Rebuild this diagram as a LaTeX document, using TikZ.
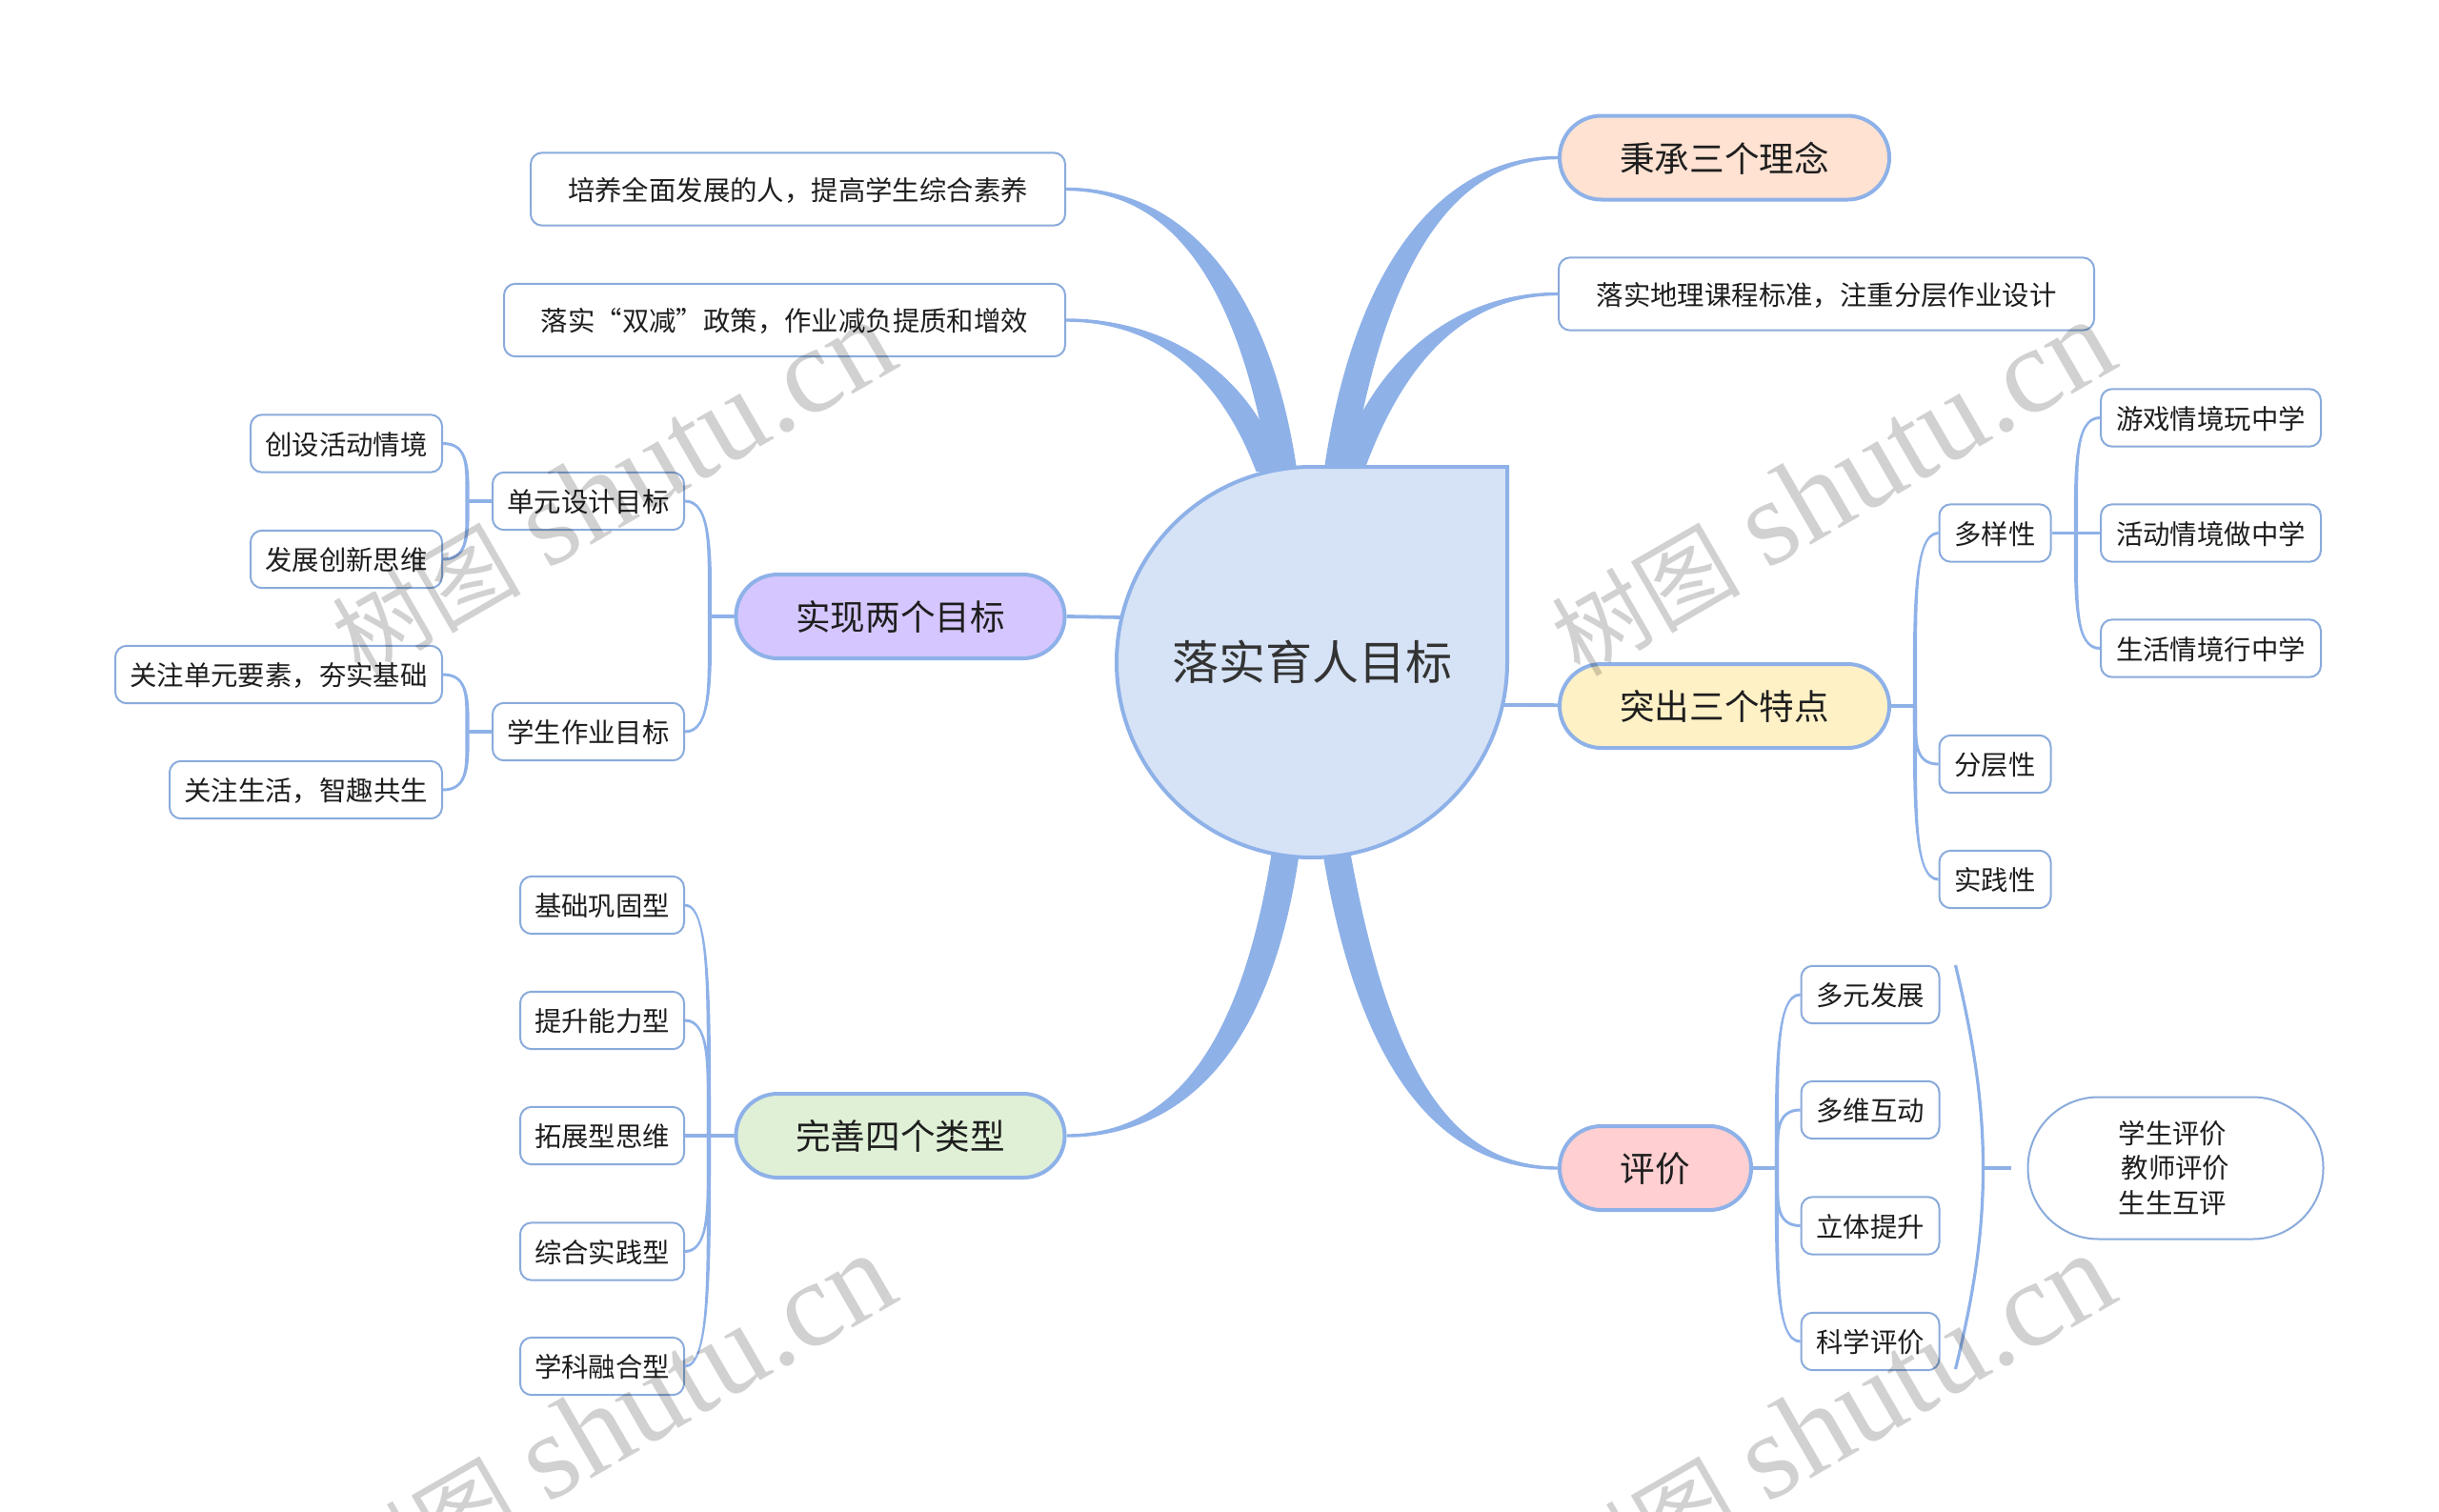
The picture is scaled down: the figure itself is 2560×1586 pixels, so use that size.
\documentclass[tikz,border=0pt]{standalone}
\usepackage{fontspec}
\setmainfont{Noto Sans CJK SC}
\newfontfamily\wmlatin{Liberation Serif}
\usetikzlibrary{calc,backgrounds}
\definecolor{linkc}{HTML}{8EB1E8}
\definecolor{edgec}{HTML}{8AABDB}
\definecolor{corefill}{HTML}{D6E3F6}
\definecolor{fillpeach}{HTML}{FFE2D2}
\definecolor{fillviolet}{HTML}{D5C6FF}
\definecolor{fillgreen}{HTML}{DFF0D6}
\definecolor{fillyellow}{HTML}{FFF1C6}
\definecolor{fillpink}{HTML}{FFCFD1}
\definecolor{inkc}{HTML}{1E1E1E}
\tikzset{
  leafbox/.style={draw=edgec,fill=white,line width=1pt,rounded corners=6pt,inner sep=0pt,minimum height=30.2pt,text=inkc,text height=13.4pt,text depth=1.9pt,font={\fontsize{14.2}{18.3}\selectfont}},
  tallbox/.style={leafbox,minimum height=38.2pt},
  pillbox/.style={draw=linkc,line width=2pt,rounded corners=21.9pt,inner sep=0pt,minimum height=44pt,text=inkc,text height=16.6pt,text depth=2pt,font={\fontsize{18.3}{22}\selectfont}},
  cloudbox/.style={draw=edgec,fill=white,line width=1pt,inner sep=0pt,text=inkc,font={\fontsize{14.2}{18.3}\selectfont},rounded corners=37pt,minimum height=74.5pt,minimum width=155pt,align=center},
  corebox/.style={inner sep=0pt,minimum size=205pt,text=black!80,text height=21pt,text depth=2.4pt,font={\fontsize{24.5}{29}\selectfont}},
  coreshape/.style={draw=linkc,fill=corefill,line width=2pt,miter limit=10},
  bandfill/.style={fill=linkc,draw=none},
  stubline/.style={draw=linkc,line width=1.9pt},
  bracketline/.style={draw=linkc,line width=1.6pt},
  wmark/.style={anchor=base west,rotate=30,inner sep=0pt,text=black,text opacity=0.18}
}
% tapered band: thin end, control 1, control 2, thick end, half width there, half width here
\newcommand{\taper}[6]{\path[bandfill] ($(#1)+(#5)$) .. controls ($(#2)+(#5)+0.35*(#6)$) and ($(#3)+1.15*(#6)$) .. ($(#4)+(#6)$) -- ($(#4)-(#6)$) .. controls ($(#3)-1.15*(#6)$) and ($(#2)-(#5)-0.35*(#6)$) .. ($(#1)-(#5)$) -- cycle;}
% main band from a node to the core
\newcommand{\mainband}[6]{%
  \coordinate (m1) at ($(#1)+(#2)$);
  \coordinate (m2) at ($(core)+(#3)$);
  \coordinate (m3) at ($(core)+(#4)$);
  \taper{#1}{m1}{m2}{m3}{#5}{#6}}
% child curve from a node to a junction on a spine
\newcommand{\kid}[4]{%
  \coordinate (k1) at ($(#2|-#1)+({#3*2},0)$);
  \coordinate (k2) at ($(#2)!0.55!(#2|-#1)$);
  \taper{#1}{k1}{k2}{#2}{0,{-1.5*#4}}{{#3*2.1},0}}
\begin{document}
\begin{tikzpicture}[x=0.5pt,y=-0.5pt]
\useasboundingbox (0,0) rectangle (2560,1586);
% core
\node[corebox] (core) at (1377,695) {落实育人目标};
% first level
\node[pillbox,fill=fillpeach,minimum width=173pt] (bingcheng) at (1810,165.5) {秉承三个理念};
\node[pillbox,fill=fillyellow,minimum width=173pt] (tuchu) at (1810,741) {突出三个特点};
\node[pillbox,fill=fillpink,minimum width=100.5pt] (pingjia) at (1737.5,1226) {评价};
\node[pillbox,fill=fillviolet,minimum width=172.5pt] (shixian) at (945,647) {实现两个目标};
\node[pillbox,fill=fillgreen,minimum width=172.5pt] (wanshan) at (945,1192) {完善四个类型};
\node[tallbox,minimum width=280.5pt] (peiyang) at (837.5,198.5) {培养全面发展的人，提高学生综合素养};
\node[tallbox,minimum width=294.5pt] (shuangjian) at (823.5,336) {落实“双减”政策，作业减负提质和增效};
\node[tallbox,minimum width=281pt] (dili) at (1917,308.5) {落实地理课程标准，注重分层作业设计};
% left upper tree
\node[leafbox,minimum width=100.5pt] (danyuan) at (617.5,526) {单元设计目标};
\node[leafbox,minimum width=100.5pt] (zuoye) at (617.5,768) {学生作业目标};
\node[leafbox,minimum width=100.5pt] (chuangshe) at (363.5,465.5) {创设活动情境};
\node[leafbox,minimum width=100.5pt] (chuangxin) at (363.5,587) {发展创新思维};
\node[leafbox,minimum width=171.5pt] (yaosu) at (292.5,708) {关注单元要素，夯实基础};
\node[leafbox,minimum width=143pt] (shenghuo) at (321,829) {关注生活，智趣共生};
% left lower tree
\node[leafbox,minimum width=86pt] (jichu) at (632,950) {基础巩固型};
\node[leafbox,minimum width=86pt] (tisheng) at (632,1071) {提升能力型};
\node[leafbox,minimum width=86pt] (tuozhan) at (632,1192) {拓展型思维};
\node[leafbox,minimum width=86pt] (zonghe) at (632,1313.5) {综合实践型};
\node[leafbox,minimum width=86pt] (xueke) at (632,1434) {学科融合型};
% right tree
\node[leafbox,minimum width=58.5pt] (duoyang) at (2094,559.5) {多样性};
\node[leafbox,minimum width=58.5pt] (fenceng) at (2094,802) {分层性};
\node[leafbox,minimum width=58.5pt] (shijian) at (2094,923) {实践性};
\node[leafbox,minimum width=115.5pt] (youxi) at (2320.5,438.5) {游戏情境玩中学};
\node[leafbox,minimum width=115.5pt] (huodong) at (2320.5,559.5) {活动情境做中学};
\node[leafbox,minimum width=115.5pt] (qingjing) at (2320.5,680.5) {生活情境行中学};
% evaluation tree
\node[leafbox,minimum width=72.5pt] (duoyuan) at (1963,1044) {多元发展};
\node[leafbox,minimum width=72.5pt] (duowei) at (1963,1165) {多维互动};
\node[leafbox,minimum width=72.5pt] (liti) at (1963,1286.5) {立体提升};
\node[leafbox,minimum width=72.5pt] (kexue) at (1963,1408) {科学评价};
\node[cloudbox] (pinglist) at (2283.5,1226) {学生评价\hspace*{3pt}\\教师评价\hspace*{3pt}\\生生互评\hspace*{3pt}};
% junctions on the spines
\coordinate (jshixian) at (shixian.west -| 745,0);
\coordinate (jdanyuan) at (danyuan.west -| 490.5,0);
\coordinate (jzuoye) at (zuoye.west -| 490.5,0);
\coordinate (jwanshan) at (wanshan.west -| 744,0);
\coordinate (jtuchu) at (tuchu.east -| 2010,0);
\coordinate (jduoyang) at (duoyang.east -| 2179,0);
\coordinate (jpingjia) at (pingjia.east -| 1865,0);
\coordinate (brkA) at ($(duoyuan.east)+(16,-31)$);
\coordinate (brkB) at ($(pinglist.west)+(-46,0)$);
\coordinate (brkC) at ($(kexue.east)+(16,29)$);
\coordinate (brkE) at ($(pinglist.west)+(-17,0)$);
\coordinate (coreL) at ($(core)+(-198,-47)$);
\coordinate (coreR) at ($(core)+(198,45)$);
\begin{scope}[on background layer]
  % bands to the core
  \mainband{peiyang.east}{112,0}{-62,-405}{-30,-200}{0,-1.7}{14.5,0}
  \mainband{shuangjian.east}{82,0}{-87,-320}{-44,-200}{0,-1.7}{14.5,0}
  \mainband{bingcheng.west}{-106,0}{63,-435}{27,-200}{0,-1.7}{-14.5,0}
  \mainband{dili.west}{-96,0}{83,-325}{40,-200}{0,-1.7}{-14.5,0}
  \mainband{pingjia.west}{-106,0}{68,450}{25,195}{0,1.7}{-14.5,0}
  \mainband{wanshan.east}{97,0}{-62,435}{-27,195}{0,1.7}{14.5,0}
  \draw[stubline] (shixian.east) -- (coreL);
  \draw[stubline] (tuchu.east) -- (coreR);
  % left upper tree
  \draw[stubline] (shixian.west) -- (jshixian);
  \kid{danyuan.east}{jshixian}{1}{1}
  \kid{zuoye.east}{jshixian}{1}{-1}
  \draw[stubline] (danyuan.west) -- (jdanyuan);
  \kid{chuangshe.east}{jdanyuan}{1}{1}
  \kid{chuangxin.east}{jdanyuan}{1}{-1}
  \draw[stubline] (zuoye.west) -- (jzuoye);
  \kid{yaosu.east}{jzuoye}{1}{1}
  \kid{shenghuo.east}{jzuoye}{1}{-1}
  % left lower tree
  \draw[stubline] (wanshan.west) -- (tuozhan.east);
  \kid{jichu.east}{jwanshan}{1}{1}
  \kid{tisheng.east}{jwanshan}{1}{1}
  \kid{zonghe.east}{jwanshan}{1}{-1}
  \kid{xueke.east}{jwanshan}{1}{-1}
  % right tree
  \draw[stubline] (tuchu.east) -- (jtuchu);
  \kid{duoyang.west}{jtuchu}{-1}{1}
  \kid{fenceng.west}{jtuchu}{-1}{-1}
  \kid{shijian.west}{jtuchu}{-1}{-1}
  \draw[stubline] (duoyang.east) -- (huodong.west);
  \kid{youxi.west}{jduoyang}{-1}{1}
  \kid{qingjing.west}{jduoyang}{-1}{-1}
  % evaluation tree
  \draw[stubline] (pingjia.east) -- (jpingjia);
  \kid{duoyuan.west}{jpingjia}{-1}{1}
  \kid{duowei.west}{jpingjia}{-1}{1}
  \kid{liti.west}{jpingjia}{-1}{-1}
  \kid{kexue.west}{jpingjia}{-1}{-1}
  \draw[bracketline] (brkA) .. controls ($(brkB)+(-12,-141)$) and ($(brkB)+(0,-76)$) .. (brkB) .. controls ($(brkB)+(0,76)$) and ($(brkB)+(-12,141)$) .. (brkC);
  \draw[stubline] (brkB) -- (brkE);
  % core outline
  \draw[coreshape] ($(core)+(205,0)$) arc[start angle=0,end angle=-270,radius=102.5pt] -- ($(core)+(205,-205)$) -- cycle;
\end{scope}
% watermark
\foreach \wmx/\wmy [count=\wmi] in {378/712,1658/712,378/1692,1658/1692}{
  \node[wmark] (wm\wmi) at (\wmx,\wmy) {{\fontsize{49.5}{54}\selectfont 树图}\hspace{14.5pt}{\wmlatin\fontsize{64}{70}\selectfont shutu.cn}};
}
\end{tikzpicture}
\end{document}
